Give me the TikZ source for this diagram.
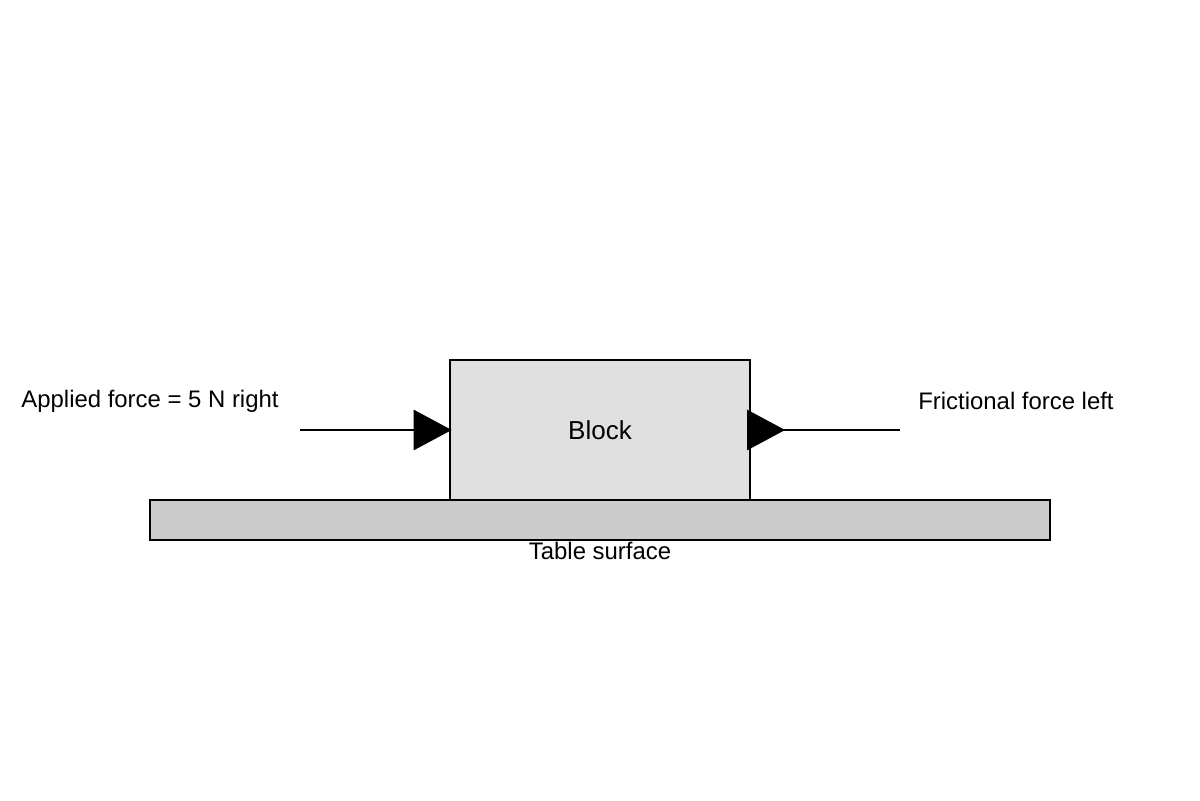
\documentclass[tikz,border=0pt]{standalone}
\usepackage{fontspec}
\setmainfont{Liberation Sans}
\usetikzlibrary{arrows.meta}
\tikzset{
  lbl/.style={font=\fontsize{17}{20}\selectfont, inner sep=0pt},
  force/.style={line width=2pt},
}
\begin{document}
\begin{tikzpicture}[x=0.025cm, y=-0.025cm]
        \useasboundingbox (0, 0) rectangle (1200, 800);
        % table and block
        \draw [fill={rgb,255:red,204;green,204;blue,204}, line width=0.8pt] (150, 500) rectangle (1050, 540);
        \node [draw, line width=1.5pt, fill={rgb,255:red,224;green,224;blue,224}, minimum width=7.5cm, minimum height=3.5cm, inner sep=0pt] (block) at (600, 430) {};
        \node [lbl, font=\fontsize{18.5}{22}\selectfont] at (block.center) {Block};
        \node [lbl] (table) at (600, 551) {Table surface};
        % forces
        \coordinate (applied) at (300, 430);
        \coordinate (friction) at (900, 430);
        \draw [force, -{Triangle[length=0.95cm, width=1cm]}] (applied) -- ([xshift=0.07cm]block.west);
        \draw [force, -{Triangle[reversed, length=0.95cm, width=1cm]}] (friction) -- ([xshift=-0.1cm]block.east);
        \node [lbl] (appliedlbl) at (150, 401) {Applied force = 5 N right};
        \node [lbl] (frictionlbl) at (1016, 401) {Frictional force left};
\end{tikzpicture}
\end{document}
